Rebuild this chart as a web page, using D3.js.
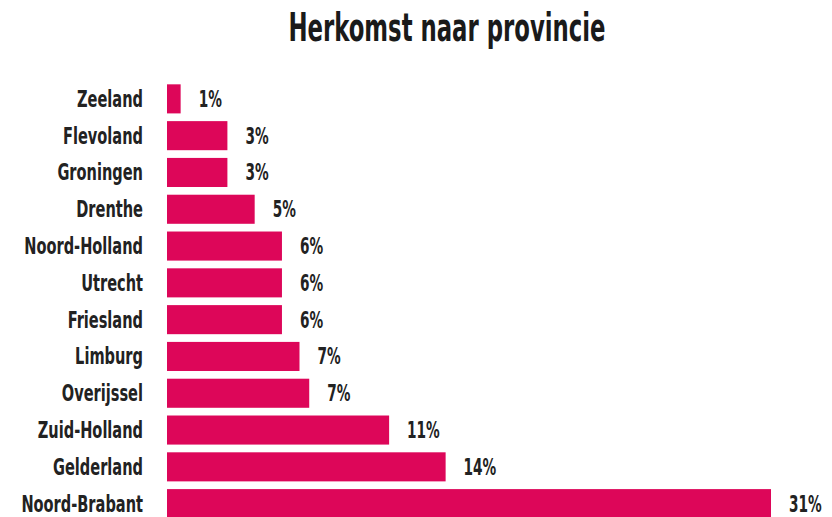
<!DOCTYPE html>
<meta charset='utf-8'>
<style>
body { margin: 0; background: #fff; }
text {
  font-family: 'Liberation Sans Narrow', 'DejaVu Sans Condensed', sans-serif;
  font-weight: bold;
  fill: #222;
}
</style>
<svg width='832' height='517'></svg>
<script src='https://d3js.org/d3.v7.min.js'></script>
<script>

// provinces, top to bottom
var provinces = ['Zeeland', 'Flevoland', 'Groningen', 'Drenthe', 'Noord-Holland', 'Utrecht',
  'Friesland', 'Limburg', 'Overijssel', 'Zuid-Holland', 'Gelderland', 'Noord-Brabant'];
// share in percent
var shares = [0.7, 3.1, 3.1, 4.5, 5.9, 5.9, 5.9, 6.8, 7.3, 11.4, 14.3, 31];
var title = 'Herkomst naar provincie';

var data = provinces.map(function(p, i) { return {name: p, value: shares[i]}; });

var svg = d3.select('svg');

var x = d3.scaleLinear()
    .domain([0, 31])
    .range([167, 771]);

var y = d3.scaleBand()
    .domain(provinces)
    .range([76.6, 525.9])
    .padding(0.21);

// title (font squeezed horizontally to look condensed)
svg.append('text')
    .attr('transform', 'translate(447,41) scale(0.65,1)')
    .attr('text-anchor', 'middle')
    .attr('font-size', '39px')
    .style('fill', '#1a1a1a')
    .text(title);

// bars
svg.append('g')
  .selectAll('rect')
  .data(data)
  .enter().append('rect')
    .attr('x', x(0))
    .attr('y', d => y(d.name))
    .attr('width', d => x(d.value) - x(0))
    .attr('height', y.bandwidth())
    .attr('fill', '#dd0659');

// province names
svg.append('g')
  .selectAll('text')
  .data(data)
  .enter().append('text')
    .attr('transform', d => 'translate(143,' + (y(d.name) + y.bandwidth() / 2 + 8) + ') scale(0.705,1)')
    .attr('text-anchor', 'end')
    .attr('font-size', '23px')
    .text(d => d.name);

// value labels
svg.append('g')
  .selectAll('text')
  .data(data)
  .enter().append('text')
    .attr('transform', d => 'translate(' + (x(d.value) + 18) + ',' + (y(d.name) + y.bandwidth() / 2 + 8) + ') scale(0.66,1)')
    .attr('font-size', '23px')
    .text(d => Math.round(d.value) + '%');

</script>
